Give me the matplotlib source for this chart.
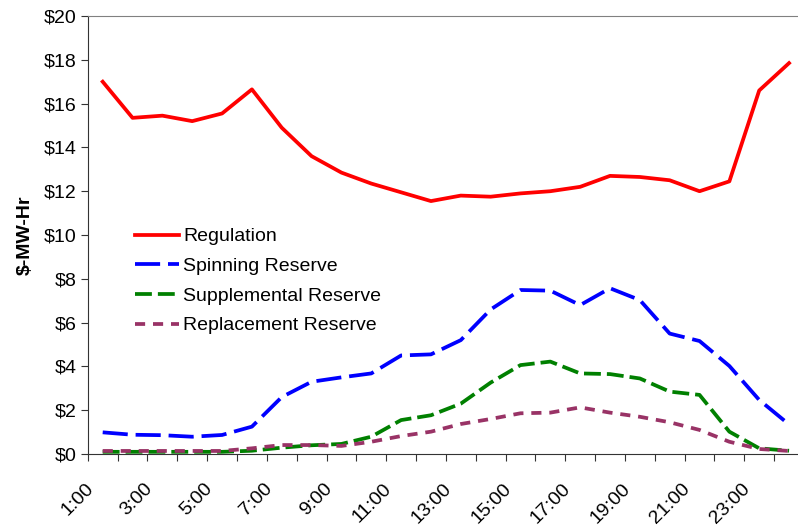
import numpy as np
from matplotlib import pyplot as plt
from matplotlib import transforms

plt.rcParams['font.family'] = ['Liberation Sans', 'DejaVu Sans']

# Horas del día (1..24) y precios por servicio ($-MW-Hr)
hours = np.arange(1, 25)
hour_labels = ['%d:00' % h for h in range(1, 25, 2)]

regulation = [17.0, 15.35, 15.45, 15.2, 15.55, 16.65, 14.9, 13.6, 12.85, 12.35,
              11.95, 11.55, 11.8, 11.75, 11.9, 12.0, 12.2, 12.7, 12.65, 12.5,
              12.0, 12.45, 16.6, 17.85]
spinning = [0.99, 0.88, 0.86, 0.79, 0.87, 1.25, 2.6, 3.3, 3.5, 3.68,
            4.5, 4.55, 5.2, 6.6, 7.49, 7.46, 6.8, 7.57, 7.03, 5.5,
            5.16, 4.02, 2.47, 1.35]
supplemental = [0.1, 0.1, 0.1, 0.1, 0.1, 0.15, 0.29, 0.4, 0.46, 0.79,
                1.55, 1.77, 2.3, 3.26, 4.06, 4.22, 3.68, 3.65, 3.45, 2.85,
                2.7, 1.02, 0.26, 0.15]
replacement = [0.14, 0.14, 0.14, 0.14, 0.14, 0.26, 0.41, 0.41, 0.37, 0.56,
               0.82, 1.02, 1.37, 1.6, 1.86, 1.89, 2.13, 1.89, 1.7, 1.45,
               1.1, 0.56, 0.23, 0.14]

FS = 14
fig = plt.figure(figsize=(7.98, 5.25), dpi=100)
ax = fig.add_axes([0.110, 0.1352, 0.890, 0.8343])

LW = 2.7
ax.plot(hours, regulation, color='#FF0000', lw=LW, label='Regulation')
ax.plot(hours, spinning, color='#0000FF', lw=LW, ls=(0, (6.7, 2.1)), label='Spinning Reserve')
ax.plot(hours, supplemental, color='#008000', lw=LW, ls=(0, (4.5, 1.6)), label='Supplemental Reserve')
ax.plot(hours, replacement, color='#993366', lw=LW, ls=(0, (2.7, 2.1)), label='Replacement Reserve')

ax.set_xlim(0.5, 24.3)
ax.set_ylim(0, 20)

# ejes estilo Excel
ax.set_yticks(np.arange(0, 21, 2))
ax.set_yticklabels(['$%d' % v for v in range(0, 21, 2)], fontsize=FS)
ax.set_xticks(np.arange(0.5, 24.5, 1))
ax.set_xticklabels([])
ax.set_xticks(np.arange(1, 25, 2), minor=True)
ax.set_xticklabels(hour_labels, minor=True, rotation=45, ha='right', va='center',
                   rotation_mode='anchor', fontsize=FS)
ax.tick_params(axis='x', which='major', direction='out', length=5, color='#333333')
ax.tick_params(axis='x', which='minor', length=0, pad=23)
ax.tick_params(axis='y', direction='out', length=5, color='#333333', pad=3)
shift = transforms.ScaledTranslation(-12 / 100, 0, fig.dpi_scale_trans)
for lab in ax.get_xticklabels(minor=True):
    lab.set_transform(lab.get_transform() + shift)

ax.spines['right'].set_visible(False)
ax.spines['top'].set_color('#808080')
ax.spines['left'].set_color('#333333')
ax.spines['bottom'].set_color('#333333')

ax.set_ylabel('$-MW-Hr', fontsize=FS, fontweight='bold', labelpad=7)

ax.legend(loc='center left', bbox_to_anchor=(0.066, 0.395), frameon=False,
          fontsize=FS, handlelength=2.3, handletextpad=0.2, labelspacing=0.62,
          borderpad=0, borderaxespad=0)

plt.savefig('out.png', dpi=100)
